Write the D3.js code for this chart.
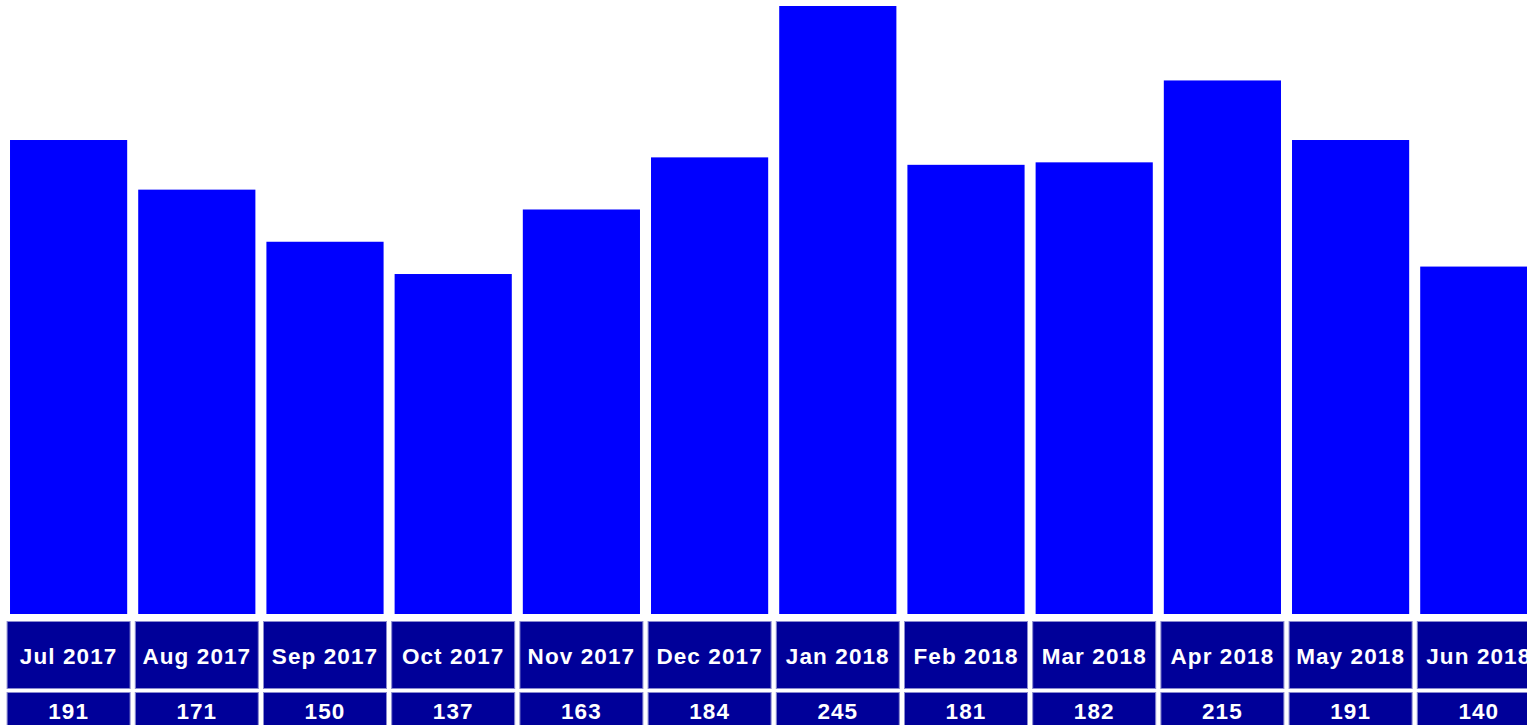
<!DOCTYPE html>
<html>
<head>
<meta charset="utf-8">
<script src="https://cdn.jsdelivr.net/npm/d3@7/dist/d3.min.js"></script>
<style>
html, body { margin: 0; padding: 0; background: #ffffff; overflow: hidden; }
svg { display: block; }
</style>
</head>
<body>
<svg id="chart" width="1527" height="725"></svg>
<script>
const months = ["Jul 2017","Aug 2017","Sep 2017","Oct 2017","Nov 2017","Dec 2017","Jan 2018","Feb 2018","Mar 2018","Apr 2018","May 2018","Jun 2018"];
const counts = [191,171,150,137,163,184,245,181,182,215,191,140];

const svg = d3.select("#chart");
const step = 128.2;
const x = d3.scaleBand()
  .domain(months)
  .range([4.5, 4.5 + step * months.length])
  .paddingInner(0.086)
  .paddingOuter(0.043);

const baseY = 614;
const y = d3.scaleLinear().domain([0, 245]).range([baseY, 6]);

svg.append("g").selectAll("rect")
  .data(months)
  .join("rect")
  .attr("x", d => x(d))
  .attr("width", x.bandwidth())
  .attr("y", (d, i) => y(counts[i]))
  .attr("height", (d, i) => baseY - y(counts[i]))
  .attr("fill", "#0000ff");

const cellW = 124;
const rows = [
  { top: 621, h: 67, base: 663.5, text: (d, i) => d },
  { top: 692, h: 67, base: 718.5, text: (d, i) => counts[i] }
];

rows.forEach(r => {
  const g = svg.append("g");
  g.selectAll("rect")
    .data(months)
    .join("rect")
    .attr("x", d => x(d) + x.bandwidth() / 2 - cellW / 2 + 0.5)
    .attr("y", r.top + 0.5)
    .attr("width", cellW - 1)
    .attr("height", r.h)
    .attr("fill", "#000099")
    .attr("stroke", "#8a8ad0")
    .attr("stroke-width", 1);
  g.selectAll("text")
    .data(months)
    .join("text")
    .attr("x", d => x(d) + x.bandwidth() / 2)
    .attr("y", r.base)
    .attr("text-anchor", "middle")
    .attr("fill", "#ffffff")
    .attr("font-family", "'Liberation Sans', Arial, sans-serif")
    .attr("font-weight", "bold")
    .attr("font-size", "22.5px")
    .attr("letter-spacing", "1.1px")
    .text(r.text);
});
</script>
</body>
</html>
